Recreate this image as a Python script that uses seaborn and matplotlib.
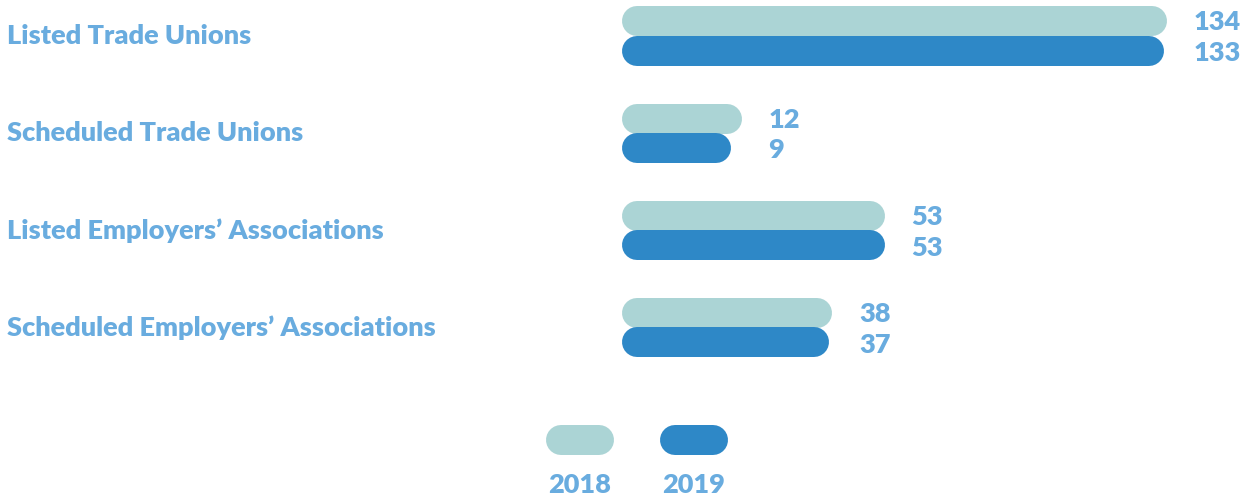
import pandas as pd
import matplotlib.pyplot as plt
import matplotlib.transforms as mtransforms
from matplotlib.lines import Line2D
import seaborn as sns

categories = ['Listed Trade Unions', 'Scheduled Trade Unions',
              'Listed Employers\u2019 Associations', 'Scheduled Employers\u2019 Associations']
years = ['2018', '2019']
values_2018 = [134, 12, 53, 38]
values_2019 = [133, 9, 53, 37]

colors = {'2018': '#abd4d5', '2019': '#2e88c7'}
text_col = '#69acdf'

df = pd.DataFrame({
    'category': categories * 2,
    'year': ['2018'] * 4 + ['2019'] * 4,
    'count': values_2018 + values_2019,
})

sns.set_style('white')
plt.rcParams['font.family'] = ['Lato', 'DejaVu Sans']

W, H = 1243, 498
fig = plt.figure(figsize=(W / 100, H / 100), dpi=100)
ax = fig.add_axes([622 / W, 0, 621 / W, 1])

sns.barplot(data=df, y='category', x='count', hue='year', palette=colors,
            order=categories, hue_order=years, width=0.6, orient='h',
            saturation=1, legend=False, ax=ax)

ax.set_xlim(-18, 160)
ax.set_ylim((H - 36) / 97.3, -36 / 97.3)

# swap square bars for rounded pills
bar_lw = 30 * 72 / 100
start = -13.7
for patch in list(ax.patches):
    y = patch.get_y() + patch.get_height() / 2
    x1 = patch.get_x() + patch.get_width()
    col = patch.get_facecolor()
    patch.set_visible(False)
    ax.plot([start, x1], [y, y], color=col, lw=bar_lw, solid_capstyle='round', zorder=3)

# value labels, both aligned after the longer bar of the pair
for i, cat in enumerate(categories):
    xmax = max(values_2018[i], values_2019[i])
    for j, vals in enumerate([values_2018, values_2019]):
        y = i + (-0.14 if j == 0 else 0.175)
        ax.annotate(str(vals[i]), xy=(xmax, y), xytext=(30, 0), textcoords='offset points',
                    ha='left', va='center', fontsize=19.5, fontweight='heavy', color=text_col)

ax.set_axis_off()

# category labels at the left edge of the figure
trans = mtransforms.blended_transform_factory(fig.transFigure, ax.transData)
for i, cat in enumerate(categories):
    fig.text(7 / W, i, cat, transform=trans, ha='left', va='center',
             fontsize=19.5, fontweight='heavy', color=text_col)

# legend
for cx, yr in [(580, '2018'), (694, '2019')]:
    fig.add_artist(Line2D([(cx - 19) / W, (cx + 19) / W], [1 - 440 / H, 1 - 440 / H],
                          color=colors[yr], lw=bar_lw, solid_capstyle='round',
                          transform=fig.transFigure))
    fig.text(cx / W, 1 - 485 / H, yr, ha='center', va='center', fontsize=19.5,
             fontweight='heavy', color=text_col)

plt.savefig('out.png', dpi=100)
